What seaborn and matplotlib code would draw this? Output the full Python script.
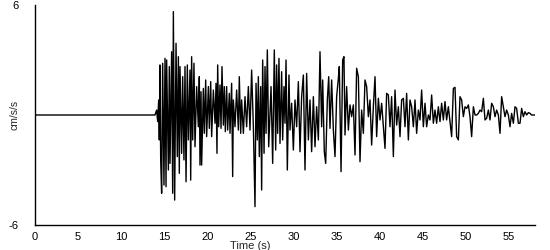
import matplotlib
matplotlib.use("Agg")
import matplotlib.pyplot as plt
import seaborn as sns
import pandas as pd

# Acceleration record: time (s) of read-off peaks and values (cm/s/s)
time_s = [0.0, 13.92, 14.11, 14.23, 14.35, 14.42, 14.50, 14.58, 14.69, 14.81, 14.96, 15.08, 15.20, 15.27,
          15.47, 15.58, 15.66, 15.85, 15.97, 16.05, 16.20, 16.36, 16.51, 16.63, 16.74, 16.82, 17.01,
          17.13, 17.28, 17.40, 17.52, 17.67, 17.79, 17.98, 18.06, 18.17, 18.29, 18.44, 18.56, 18.75,
          18.95, 19.06, 19.14, 19.26, 19.33, 19.53, 19.64, 19.80, 19.91, 20.11, 20.22, 20.38, 20.49,
          20.69, 20.88, 21.00, 21.11, 21.19, 21.31, 21.46, 21.58, 21.69, 21.85, 21.96, 22.08, 22.23,
          22.35, 22.54, 22.62, 22.81, 22.93, 23.01, 23.20, 23.39, 23.59, 23.70, 23.86, 23.97, 24.17,
          24.36, 24.55, 24.75, 24.94, 25.13, 25.33, 25.52, 25.64, 25.79, 25.91, 26.02, 26.18, 26.29,
          26.41, 26.57, 26.68, 26.80, 26.95, 27.11,
          27.38, 27.57, 27.76, 27.92, 28.03, 28.15, 28.30, 28.42, 28.61, 28.73, 28.88, 29.00, 29.12,
          29.27, 29.46, 29.58, 29.77, 29.97, 30.16, 30.35, 30.55, 30.74, 30.93, 31.13, 31.32, 31.51,
          31.71, 31.90, 32.09, 32.29, 32.48, 32.67, 32.87, 33.06, 33.25, 33.37, 33.56, 33.72, 33.91,
          34.07, 34.22, 34.41, 34.61, 34.80, 34.99, 35.19, 35.30, 35.50, 35.69, 35.84, 35.96, 36.15,
          36.35, 36.54, 36.73, 36.93, 37.12, 37.31, 37.51, 37.70, 37.89, 38.09, 38.28, 38.47, 38.67,
          38.86, 39.05, 39.25, 39.44, 39.63, 39.83, 40.02, 40.21, 40.41, 40.60, 40.79, 40.99, 41.18,
          41.37, 41.57, 41.76, 41.95, 42.15,
          42.34, 42.53, 42.73, 42.92, 43.11, 43.31, 43.50, 43.69, 43.89, 44.08, 44.27, 44.47, 44.66,
          44.85, 45.05, 45.24, 45.43, 45.63, 45.82, 46.01, 46.21, 46.40, 46.59, 46.79, 46.98, 47.17,
          47.37, 47.56, 47.75, 47.95, 48.14, 48.33, 48.53, 48.72, 48.91, 49.11, 49.30, 49.49, 49.69,
          49.88, 50.07, 50.27, 50.46, 50.65, 50.85, 51.04, 51.23, 51.43, 51.62, 51.81, 52.01, 52.20,
          52.39, 52.59, 52.78, 52.97, 53.17, 53.36, 53.55, 53.75, 53.94, 54.13, 54.33, 54.52, 54.71,
          54.91, 55.10, 55.29, 55.49, 55.68, 55.87, 56.07, 56.26, 56.45, 56.65, 56.84, 57.03, 57.23,
          57.42, 57.61, 58.0]

accel = [0.0, 0.0, 0.27, -0.36, 0.82, -1.36, 2.73, -2.45, -4.27, 2.82, -3.82, 3.09, -3.91, 3.0,
         -3.0, 2.64, -2.64, 3.45, -4.27, 5.64, -4.64, 3.91, -2.27, 3.18, -3.18, 2.64, -2.09,
         2.09, -2.45, 2.64, -3.64, 2.73, -1.36, 2.45, -3.55, 3.18, -1.36, 2.82, -1.73, 1.55,
         -0.64, 2.09, -2.73, 1.27, -2.73, 1.45, -1.0, 1.91, -1.18, 1.55, -0.73, 1.82, -1.18,
         1.36, -0.45, 1.73, -2.09, 2.73, -0.64, 1.64, -0.73, 2.64, -0.55, 1.55, -0.91, 1.55,
         -0.82, 1.18, -1.0, 1.73, -3.36, 0.82, -0.64, 1.36, -0.82, 2.09, -1.0, 0.82, -1.0,
         1.0, -0.64, 1.55, -0.82, 2.45, -0.64, -5.0, 1.73, -1.36, 2.09, -2.27, 1.55, -4.09,
         3.0, -2.09, 2.64, -1.0, 3.55, -1.73,
         1.55, -2.64, 3.55, -1.91, 2.73, -1.0, 3.09, -1.55, 2.36, -1.36, 1.55, -0.45, 3.0,
         -3.0, 2.18, -0.82, 0.64, -1.91, 0.82, -0.64, 1.82, -2.0, 1.0, 2.18, -3.0, 2.27,
         -1.36, 0.82, -2.0, 1.0, -1.73, 0.45, -1.36, 3.45, -0.64, 1.91, -2.0, -2.64, 0.82,
         2.09, -0.73, 1.91, -0.82, -2.27, 1.0, 2.0, 2.64, -3.09, 3.0, 3.18, -1.09, 1.55,
         -0.82, 0.55, -0.09, 0.55, -2.18, 2.55, 2.09, -2.55, 0.27, -1.0, 1.91, 1.55, -0.09,
         0.82, -1.64, 0.45, 2.09, -1.18, 0.91, -0.27, 0.64, -0.64, -1.82, 1.18, 1.09, -0.64,
         1.0, -2.27, 1.36, -0.55, 0.45,
         -1.18, 0.82, 0.91, -0.64, 1.18, -1.36, 0.82, 0.45, -0.64, 0.82, -1.0, 0.27, -0.27,
         1.36, -0.64, 0.64, -0.64, 0.0, -0.27, 1.09, -0.45, 0.27, -0.45, 0.45, -0.36, 0.64,
         -0.27, 0.73, -0.27, 0.45, -0.36, -1.18, 1.45, 1.51, -1.18, -1.36, 1.0, 0.82, -0.09,
         0.45, 0.36, 0.55, -0.09, -1.18, 0.45, 0.0, 0.0, 0.09, 0.27, 0.18, 0.91, -0.27,
         -0.18, 0.27, -0.27, 0.64, 0.45, -0.09, 0.27, 0.0, -1.0, 1.0, 0.45, -0.09, 0.27,
         0.0, -0.64, 0.09, -0.45, 0.45, 0.36, -0.45, -0.45, 0.36, -0.09, 0.18, 0.0, 0.13,
         0.09, 0.0, 0.0]

x_ticks = [0, 5, 10, 15, 20, 25, 30, 35, 40, 45, 50, 55]
y_ticks = [-6, 6]
x_label = "Time (s)"
y_label = "cm/s/s"

df = pd.DataFrame({"t": time_s, "a": accel})

sns.set_style("white")
plt.rcParams["font.family"] = ["Liberation Sans", "DejaVu Sans"]

fig = plt.figure(figsize=(5.5, 2.5), dpi=100)
ax = fig.add_axes([35 / 550, 0.10, 500 / 550, 0.88])
sns.lineplot(data=df, x="t", y="a", ax=ax, color="black", linewidth=1.0,
             estimator=None, sort=False)

ax.set_xlim(0, 58)
ax.set_ylim(-6, 6)
ax.set_xticks(x_ticks)
ax.set_xticklabels([str(v) for v in x_ticks], fontsize=8)
ax.set_yticks(y_ticks)
ax.set_yticklabels([str(v) for v in y_ticks], fontsize=8)
ax.set_xlabel(x_label, fontsize=8)
ax.set_ylabel(y_label, fontsize=7.5)
ax.xaxis.set_label_coords(0.43, -0.074)
ax.yaxis.set_label_coords(-0.03, 0.5)
ax.tick_params(axis="x", direction="out", length=4, width=1, pad=1, colors="black")
ax.tick_params(axis="y", direction="out", length=4, width=1, pad=8, colors="black")
for side in ["top", "right"]:
    ax.spines[side].set_visible(False)
for side in ["left", "bottom"]:
    ax.spines[side].set_color("black")
    ax.spines[side].set_linewidth(1)
ax.grid(False)

fig.savefig("out.png", dpi=100, facecolor="white")
